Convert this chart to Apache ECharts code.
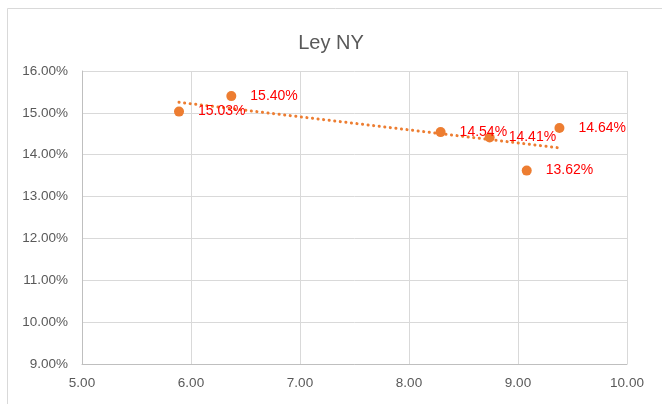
<!DOCTYPE html>
<html>
<head>
<meta charset="utf-8">
<script src="https://cdn.jsdelivr.net/npm/echarts@6/dist/echarts.min.js"></script>
<style>
  html, body { margin: 0; padding: 0; background: #fff; }
  #chart { width: 662px; height: 404px; }
</style>
</head>
<body>
<div id="chart"></div>
<script>
// Ley NY: rate versus index, with a linear trend line
const xValues = [5.89, 6.37, 8.29, 8.74, 9.08, 9.38];
const yValues = [15.03, 15.40, 14.54, 14.41, 13.62, 14.64];
const title = 'Ley NY';
const xTicks = [5, 10, 1];     // min, max, interval
const yTicks = [9, 16, 1];

const points = xValues.map((x, i) => [x, yValues[i]]);

// least-squares fit for the trend line
const n = xValues.length;
const mx = xValues.reduce((a, b) => a + b, 0) / n;
const my = yValues.reduce((a, b) => a + b, 0) / n;
let sxy = 0, sxx = 0;
for (let i = 0; i < n; i++) {
  sxy += (xValues[i] - mx) * (yValues[i] - my);
  sxx += (xValues[i] - mx) ** 2;
}
const slope = sxy / sxx;
const x0 = Math.min(...xValues), x1 = Math.max(...xValues);
const trend = [[x0, my + slope * (x0 - mx)], [x1, my + slope * (x1 - mx)]];

const orange = '#ED7D31';
const grey = '#595959';
const font = '"Liberation Sans", Arial, sans-serif';

const chart = echarts.init(document.getElementById('chart'), null, { renderer: 'canvas' });
chart.setOption({
  animation: false,
  backgroundColor: '#fff',
  graphic: [{
    type: 'rect',
    shape: { x: 7.5, y: 8.5, width: 700, height: 420 },
    style: { fill: 'none', stroke: '#d9d9d9', lineWidth: 1 },
    silent: true
  }],
  title: {
    text: title,
    left: 'center',
    top: 28,
    textStyle: { color: grey, fontSize: 20, fontWeight: 'normal', fontFamily: font }
  },
  grid: { left: 82, right: 35, top: 71, bottom: 40 },
  xAxis: {
    type: 'value',
    min: xTicks[0], max: xTicks[1], interval: xTicks[2],
    axisLine: { show: true, lineStyle: { color: '#bfbfbf' } },
    axisTick: { show: false },
    splitLine: { show: true, lineStyle: { color: '#d9d9d9' } },
    axisLabel: {
      color: grey, fontSize: 13.5, fontFamily: font, margin: 12,
      formatter: v => v.toFixed(2)
    }
  },
  yAxis: {
    type: 'value',
    min: yTicks[0], max: yTicks[1], interval: yTicks[2],
    axisLine: { show: true, lineStyle: { color: '#bfbfbf' } },
    axisTick: { show: false },
    splitLine: { show: true, lineStyle: { color: '#d9d9d9' } },
    axisLabel: {
      color: grey, fontSize: 13.5, fontFamily: font, margin: 14,
      formatter: v => v.toFixed(2) + '%'
    }
  },
  series: [
    {
      type: 'line',
      data: trend,
      symbol: 'none',
      z: 1,
      lineStyle: { color: orange, width: 3, type: [0.1, 5.5], cap: 'round' },
      silent: true
    },
    {
      type: 'scatter',
      data: points,
      symbolSize: 10,
      z: 2,
      itemStyle: { color: orange, opacity: 1 },
      label: {
        show: true,
        position: 'right',
        distance: 14,
        color: '#FF0000',
        fontSize: 14,
        fontFamily: font,
        formatter: p => p.value[1].toFixed(2) + '%'
      }
    }
  ]
});
</script>
</body>
</html>
